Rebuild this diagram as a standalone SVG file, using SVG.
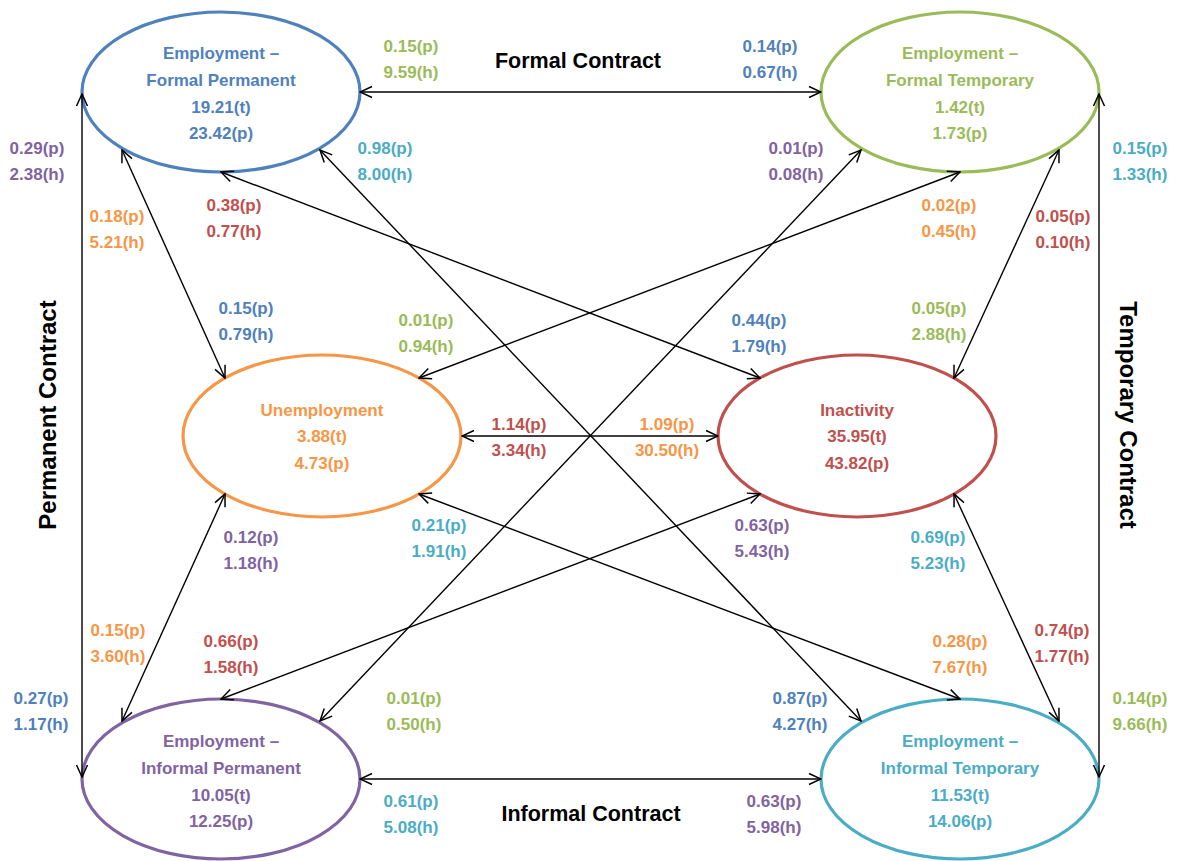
<svg xmlns="http://www.w3.org/2000/svg" width="1186" height="861" viewBox="0 0 1186 861">
<style>
text{font-family:"Liberation Sans",Arial,sans-serif;font-weight:bold;font-size:17px;text-anchor:middle}
.title{font-size:21.5px;fill:#000}
.vt{font-size:24px}
.bl{fill:#4F81BD}.gr{fill:#9BBB59}.or{fill:#F79646}.rd{fill:#C0504D}.pu{fill:#8064A2}.te{fill:#4BACC6}
ellipse{fill:#fff;stroke-width:3.2}
.conn line{stroke:#000;stroke-width:1.4;marker-start:url(#arr);marker-end:url(#arr)}
</style>
<defs>
<marker id="arr" viewBox="0 0 14 14" refX="13" refY="7" markerWidth="14" markerHeight="14" markerUnits="userSpaceOnUse" orient="auto-start-reverse">
<path d="M1,1.5 L13,7 L1,12.5" fill="none" stroke="#000" stroke-width="1.5"/>
</marker>
</defs>
<rect width="1186" height="861" fill="#fff"/>
<g id="fp"><ellipse cx="221" cy="92" rx="139" ry="80" stroke="#4F81BD"/>
<text class="bl"><tspan x="221" y="59">Employment –</tspan><tspan x="221" y="86">Formal Permanent</tspan><tspan x="221" y="113">19.21(t)</tspan><tspan x="221" y="139">23.42(p)</tspan></text></g>
<g id="ft"><ellipse cx="960" cy="92" rx="139" ry="80" stroke="#9BBB59"/>
<text class="gr"><tspan x="960" y="59">Employment –</tspan><tspan x="960" y="86">Formal Temporary</tspan><tspan x="960" y="113">1.42(t)</tspan><tspan x="960" y="139">1.73(p)</tspan></text></g>
<g id="un"><ellipse cx="322" cy="436" rx="139" ry="81" stroke="#F79646"/>
<text class="or"><tspan x="322" y="416">Unemployment</tspan><tspan x="322" y="442">3.88(t)</tspan><tspan x="322" y="469">4.73(p)</tspan></text></g>
<g id="in"><ellipse cx="857" cy="436" rx="139" ry="81" stroke="#C0504D"/>
<text class="rd"><tspan x="857" y="416">Inactivity</tspan><tspan x="857" y="442">35.95(t)</tspan><tspan x="857" y="469">43.82(p)</tspan></text></g>
<g id="ip"><ellipse cx="221" cy="779" rx="139" ry="80" stroke="#8064A2"/>
<text class="pu"><tspan x="221" y="747">Employment –</tspan><tspan x="221" y="774">Informal Permanent</tspan><tspan x="221" y="801">10.05(t)</tspan><tspan x="221" y="827">12.25(p)</tspan></text></g>
<g id="it"><ellipse cx="960" cy="779" rx="139" ry="80" stroke="#4BACC6"/>
<text class="te"><tspan x="960" y="747">Employment –</tspan><tspan x="960" y="774">Informal Temporary</tspan><tspan x="960" y="801">11.53(t)</tspan><tspan x="960" y="827">14.06(p)</tspan></text></g>
<g class="conn" id="connectors">
<line x1="360" y1="92" x2="821" y2="92"/>
<line x1="82" y1="94" x2="82" y2="777"/>
<line x1="1099" y1="94" x2="1099" y2="777"/>
<line x1="360" y1="779" x2="821" y2="779"/>
<line x1="462" y1="436" x2="718" y2="436"/>
<line x1="122" y1="150" x2="225" y2="378"/>
<line x1="221" y1="172" x2="760" y2="378"/>
<line x1="320" y1="150" x2="861" y2="721"/>
<line x1="960" y1="172" x2="419" y2="378"/>
<line x1="861" y1="150" x2="320" y2="721"/>
<line x1="1059" y1="150" x2="954" y2="378"/>
<line x1="225" y1="494" x2="122" y2="721"/>
<line x1="419" y1="494" x2="960" y2="699"/>
<line x1="760" y1="494" x2="221" y2="699"/>
<line x1="954" y1="494" x2="1059" y2="721"/>
</g>
<g id="titles">
<text class="title" x="578" y="68">Formal Contract</text>
<text class="title" x="591" y="821">Informal Contract</text>
<text class="title vt" transform="translate(56,415) rotate(-90)" x="0" y="0">Permanent Contract</text>
<text class="title vt" transform="translate(1120,415) rotate(90)" x="0" y="0">Temporary Contract</text>
</g>
<g id="labels">
<text class="gr"><tspan x="411" y="52">0.15(p)</tspan><tspan x="411" y="78">9.59(h)</tspan></text>
<text class="bl"><tspan x="770" y="52">0.14(p)</tspan><tspan x="770" y="78">0.67(h)</tspan></text>
<text class="pu"><tspan x="37" y="154">0.29(p)</tspan><tspan x="37" y="180">2.38(h)</tspan></text>
<text class="te"><tspan x="385" y="154">0.98(p)</tspan><tspan x="385" y="180">8.00(h)</tspan></text>
<text class="pu"><tspan x="796" y="154">0.01(p)</tspan><tspan x="796" y="180">0.08(h)</tspan></text>
<text class="te"><tspan x="1140" y="154">0.15(p)</tspan><tspan x="1140" y="180">1.33(h)</tspan></text>
<text class="or"><tspan x="117" y="222">0.18(p)</tspan><tspan x="117" y="248">5.21(h)</tspan></text>
<text class="rd"><tspan x="234" y="211">0.38(p)</tspan><tspan x="234" y="237">0.77(h)</tspan></text>
<text class="or"><tspan x="949" y="211">0.02(p)</tspan><tspan x="949" y="237">0.45(h)</tspan></text>
<text class="rd"><tspan x="1063" y="222">0.05(p)</tspan><tspan x="1063" y="248">0.10(h)</tspan></text>
<text class="bl"><tspan x="246" y="314">0.15(p)</tspan><tspan x="246" y="340">0.79(h)</tspan></text>
<text class="gr"><tspan x="426" y="326">0.01(p)</tspan><tspan x="426" y="352">0.94(h)</tspan></text>
<text class="bl"><tspan x="759" y="326">0.44(p)</tspan><tspan x="759" y="352">1.79(h)</tspan></text>
<text class="gr"><tspan x="939" y="314">0.05(p)</tspan><tspan x="939" y="340">2.88(h)</tspan></text>
<text class="rd"><tspan x="519" y="430">1.14(p)</tspan><tspan x="519" y="456">3.34(h)</tspan></text>
<text class="or"><tspan x="667" y="430">1.09(p)</tspan><tspan x="667" y="456">30.50(h)</tspan></text>
<text class="pu"><tspan x="251" y="543">0.12(p)</tspan><tspan x="251" y="569">1.18(h)</tspan></text>
<text class="te"><tspan x="439" y="531">0.21(p)</tspan><tspan x="439" y="557">1.91(h)</tspan></text>
<text class="pu"><tspan x="762" y="531">0.63(p)</tspan><tspan x="762" y="557">5.43(h)</tspan></text>
<text class="te"><tspan x="938" y="543">0.69(p)</tspan><tspan x="938" y="569">5.23(h)</tspan></text>
<text class="or"><tspan x="118" y="636">0.15(p)</tspan><tspan x="118" y="662">3.60(h)</tspan></text>
<text class="rd"><tspan x="231" y="647">0.66(p)</tspan><tspan x="231" y="673">1.58(h)</tspan></text>
<text class="or"><tspan x="960" y="647">0.28(p)</tspan><tspan x="960" y="673">7.67(h)</tspan></text>
<text class="rd"><tspan x="1062" y="636">0.74(p)</tspan><tspan x="1062" y="662">1.77(h)</tspan></text>
<text class="bl"><tspan x="41" y="704">0.27(p)</tspan><tspan x="41" y="730">1.17(h)</tspan></text>
<text class="gr"><tspan x="414" y="704">0.01(p)</tspan><tspan x="414" y="730">0.50(h)</tspan></text>
<text class="bl"><tspan x="800" y="704">0.87(p)</tspan><tspan x="800" y="730">4.27(h)</tspan></text>
<text class="gr"><tspan x="1140" y="704">0.14(p)</tspan><tspan x="1140" y="730">9.66(h)</tspan></text>
<text class="te"><tspan x="411" y="807">0.61(p)</tspan><tspan x="411" y="833">5.08(h)</tspan></text>
<text class="pu"><tspan x="774" y="807">0.63(p)</tspan><tspan x="774" y="833">5.98(h)</tspan></text>
</g>
</svg>
